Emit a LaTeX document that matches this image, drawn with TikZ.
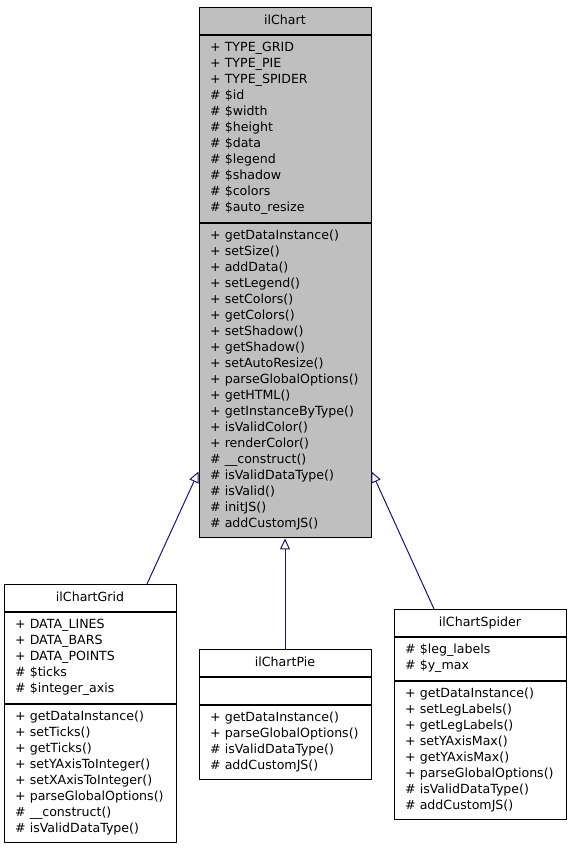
\documentclass[tikz,border=0pt]{standalone}
\usepackage{fontspec}
\setmainfont{DejaVu Sans}
\usetikzlibrary{positioning, arrows.meta}
\definecolor{edgeblue}{HTML}{191970}
\definecolor{basegray}{HTML}{BFBFBF}

\begin{document}
\begin{tikzpicture}[x=1pt,y=-1pt,line width=1pt,font=\fontsize{12.6}{16}\selectfont,
    part/.style={draw,rectangle,text width=150pt,inner xsep=11pt,inner ysep=5.4pt,align=left,
      execute at begin node=\strut,execute at end node=\strut},
    head/.style={part,align=center}, base/.style={fill=basegray},
    inherit/.style={draw=edgeblue,-{Triangle[open,length=11pt,width=10pt]}}]
\useasboundingbox (0,0) rectangle (571,848);

\node[head,base,anchor=north] (chart) at (285,7) {ilChart};
\node[part,base,below=0pt of chart] (chartattr) {+ TYPE\_GRID\\+ TYPE\_PIE\\+ TYPE\_SPIDER\\\# \$id\\\# \$width\\\# \$height\\\# \$data\\\# \$legend\\\# \$shadow\\\# \$colors\\\# \$auto\_resize};
\node[part,base,below=0pt of chartattr] (chartops) {+ getDataInstance()\\+ setSize()\\+ addData()\\+ setLegend()\\+ setColors()\\+ getColors()\\+ setShadow()\\+ getShadow()\\+ setAutoResize()\\+ parseGlobalOptions()\\+ getHTML()\\+ getInstanceByType()\\+ isValidColor()\\+ renderColor()\\\# \_\_construct()\\\# isValidDataType()\\\# isValid()\\\# initJS()\\\# addCustomJS()};

\node[head,anchor=north] (grid) at (90,584) {ilChartGrid};
\node[part,below=0pt of grid] (gridattr) {+ DATA\_LINES\\+ DATA\_BARS\\+ DATA\_POINTS\\\# \$ticks\\\# \$integer\_axis};
\node[part,below=0pt of gridattr] (gridops) {+ getDataInstance()\\+ setTicks()\\+ getTicks()\\+ setYAxisToInteger()\\+ setXAxisToInteger()\\+ parseGlobalOptions()\\\# \_\_construct()\\\# isValidDataType()};

\node[head,anchor=north] (pie) at (285,649) {ilChartPie};
\node[part,below=0pt of pie] (pieattr) {};
\node[part,below=0pt of pieattr] (pieops) {+ getDataInstance()\\+ parseGlobalOptions()\\\# isValidDataType()\\\# addCustomJS()};

\node[head,anchor=north] (spider) at (480,609) {ilChartSpider};
\node[part,below=0pt of spider] (spiderattr) {\# \$leg\_labels\\\# \$y\_max};
\node[part,below=0pt of spiderattr] (spiderops) {+ getDataInstance()\\+ setLegLabels()\\+ getLegLabels()\\+ setYAxisMax()\\+ getYAxisMax()\\+ parseGlobalOptions()\\\# isValidDataType()\\\# addCustomJS()};

\draw[inherit] ([xshift=57pt]grid.north) -- ([yshift=-91pt]chartops.west);
\draw[inherit] (pie.north) -- (chartops.south);
\draw[inherit] ([xshift=-46pt]spider.north) -- ([yshift=-91pt]chartops.east);
\end{tikzpicture}
\end{document}
